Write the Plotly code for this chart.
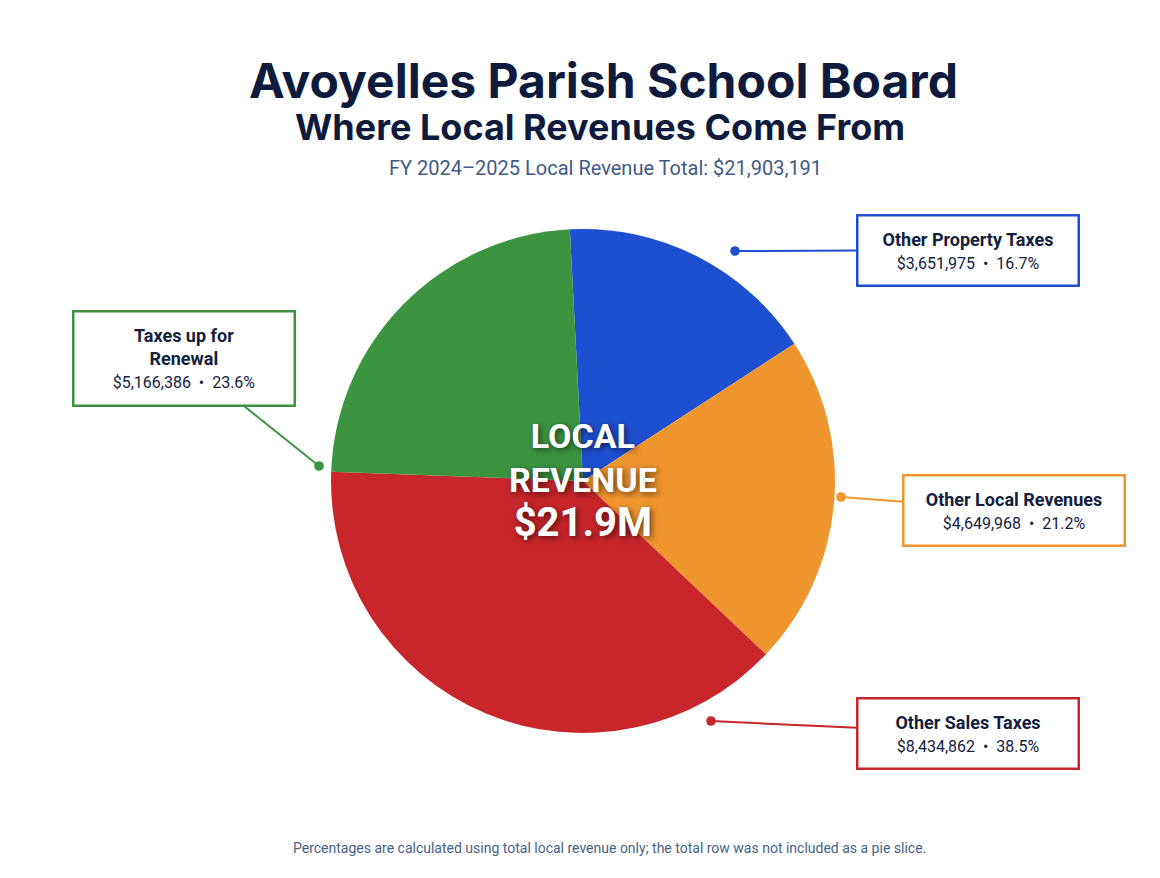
import plotly.graph_objects as go

labels = ["Other Property Taxes", "Other Local Revenues", "Other Sales Taxes", "Taxes up for Renewal"]
values = [3651975, 4649968, 8434862, 5166386]
colors = ["#1f4fd1", "#f0962f", "#c8262a", "#3d9440"]
box_text = ["Other Property Taxes", "Other Local Revenues", "Other Sales Taxes", "Taxes up for<br>Renewal"]
total = sum(values)

W, H = 1160, 878
cx, cy, r = 575, 473, 252

fig = go.Figure(go.Pie(
    labels=labels, values=values, sort=False, direction="clockwise", rotation=-3,
    marker=dict(colors=colors, line=dict(width=0)), textinfo="none", hoverinfo="label+value+percent",
    domain=dict(x=[(cx - r) / W, (cx + r) / W], y=[1 - (cy + r) / H, 1 - (cy - r) / H]),
    showlegend=False,
))

# label boxes: (dot x, dot y, box center x, box center y) in pixels
spots = [(727, 243, 960, 242), (833, 489, 1006, 502), (703, 713, 960, 725), (311, 458, 176, 350)]
for i, (dx, dy, bx, by) in enumerate(spots):
    pct = values[i] / total * 100
    fig.add_annotation(
        x=dx / W, y=1 - dy / H, xref="paper", yref="paper", ax=bx - dx, ay=by - dy,
        xanchor="center", yanchor="middle",
        text=f"<b>{box_text[i]}</b><br><span style='font-size:16px'>${values[i]:,}  •  {pct:.1f}%</span>",
        showarrow=True, arrowhead=6, arrowsize=1.2, arrowwidth=2, arrowcolor=colors[i], standoff=0,
        font=dict(family="Roboto", size=18, color="#14213d"), bgcolor="white",
        bordercolor=colors[i], borderwidth=2.5, borderpad=12, width=195, align="center",
    )

fig.add_annotation(x=cx / W, y=1 - cy / H, xref="paper", yref="paper", showarrow=False,
                   xanchor="center", yanchor="middle",
                   text="<b>LOCAL<br>REVENUE<br><span style='font-size:40px'>$21.9M</span></b>",
                   font=dict(family="Roboto", size=34, color="white",
                             shadow="2px 2px 6px rgba(0,0,0,0.6)"), align="center")

titles = [
    (595, 72, "<b>Avoyelles Parish School Board</b>", 48, "#0f1b3d", "Inter"),
    (592, 119, "<b>Where Local Revenues Come From</b>", 36, "#0f1b3d", "Inter"),
    (597, 160, f"FY 2024–2025 Local Revenue Total: ${total:,}", 20, "#3f5a86", "Roboto"),
    (601, 840, "Percentages are calculated using total local revenue only; the total row was not included as a pie slice.",
     14, "#4a5f85", "Roboto"),
]
for x, y, t, s, c, f in titles:
    fig.add_annotation(x=x / W, y=1 - y / H, xref="paper", yref="paper", showarrow=False,
                       xanchor="center", yanchor="middle", text=t,
                       font=dict(family=f, size=s, color=c))

fig.update_layout(width=W, height=H, margin=dict(l=0, r=0, t=0, b=0),
                  paper_bgcolor="white", plot_bgcolor="white")
fig.write_html("out.html")
